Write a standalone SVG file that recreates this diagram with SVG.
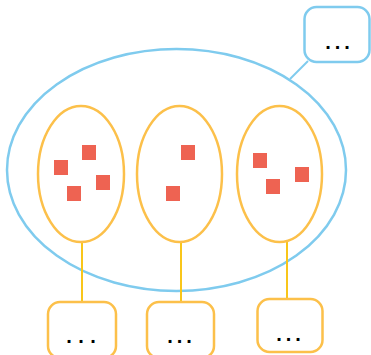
<svg xmlns="http://www.w3.org/2000/svg" width="371" height="355" viewBox="0 0 371 355">
  <style>
    .outer { fill: none; stroke: #7fcbee; stroke-width: 2.5; }
    .group { fill: none; stroke: #fcc04a; stroke-width: 2.5; }
    .box { fill: #ffffff; stroke: #fcc04a; stroke-width: 2.5; }
    .boxb { fill: #ffffff; stroke: #7fcbee; stroke-width: 2.5; }
    .item { fill: #ee6352; }
    .link { stroke: #f9c61a; stroke-width: 2; fill: none; }
    .linkb { stroke: #7fcbee; stroke-width: 2; fill: none; }
    .dots { font-family: "Liberation Sans", Arial, sans-serif; font-size: 20px; font-weight: bold; fill: #000000; }
  </style>

  <!-- outer container -->
  <g id="container">
    <ellipse class="outer" cx="176.5" cy="170" rx="169.5" ry="121"/>
  </g>

  <!-- connectors -->
  <g id="connectors">
    <line class="linkb" x1="308" y1="61" x2="290" y2="79"/>
    <line class="link" x1="82" y1="242" x2="82" y2="302"/>
    <line class="link" x1="181" y1="242" x2="181" y2="302"/>
    <line class="link" x1="287" y1="242" x2="287" y2="299"/>
  </g>

  <!-- inner groups with their items -->
  <g id="group1">
    <ellipse class="group" cx="81" cy="174" rx="43" ry="68"/>
    <rect class="item" x="82" y="145" width="14" height="15"/>
    <rect class="item" x="54" y="160" width="14" height="15"/>
    <rect class="item" x="96" y="175" width="14" height="15"/>
    <rect class="item" x="67" y="186" width="14" height="15"/>
  </g>
  <g id="group2">
    <ellipse class="group" cx="179.5" cy="174" rx="42.5" ry="68"/>
    <rect class="item" x="181" y="145" width="14" height="15"/>
    <rect class="item" x="166" y="186" width="14" height="15"/>
  </g>
  <g id="group3">
    <ellipse class="group" cx="279.5" cy="174" rx="42.5" ry="68"/>
    <rect class="item" x="253" y="153" width="14" height="15"/>
    <rect class="item" x="295" y="167" width="14" height="15"/>
    <rect class="item" x="266" y="179" width="14" height="15"/>
  </g>

  <!-- label boxes -->
  <g id="box-top">
    <rect class="boxb" x="304.5" y="7" width="65" height="55" rx="12"/>
    <text class="dots" x="325.2 334.7 344.2" y="48.5">...</text>
  </g>
  <g id="box1">
    <rect class="box" x="48" y="302" width="68" height="56" rx="12"/>
    <text class="dots" x="66.2 78.2 90.2" y="342.5">...</text>
  </g>
  <g id="box2">
    <rect class="box" x="147" y="302" width="67" height="56" rx="12"/>
    <text class="dots" x="167.2 176.7 186.2" y="342.5">...</text>
  </g>
  <g id="box3">
    <rect class="box" x="257.5" y="299" width="65" height="53" rx="12"/>
    <text class="dots" x="276.2 285.7 295.2" y="340.5">...</text>
  </g>
</svg>
